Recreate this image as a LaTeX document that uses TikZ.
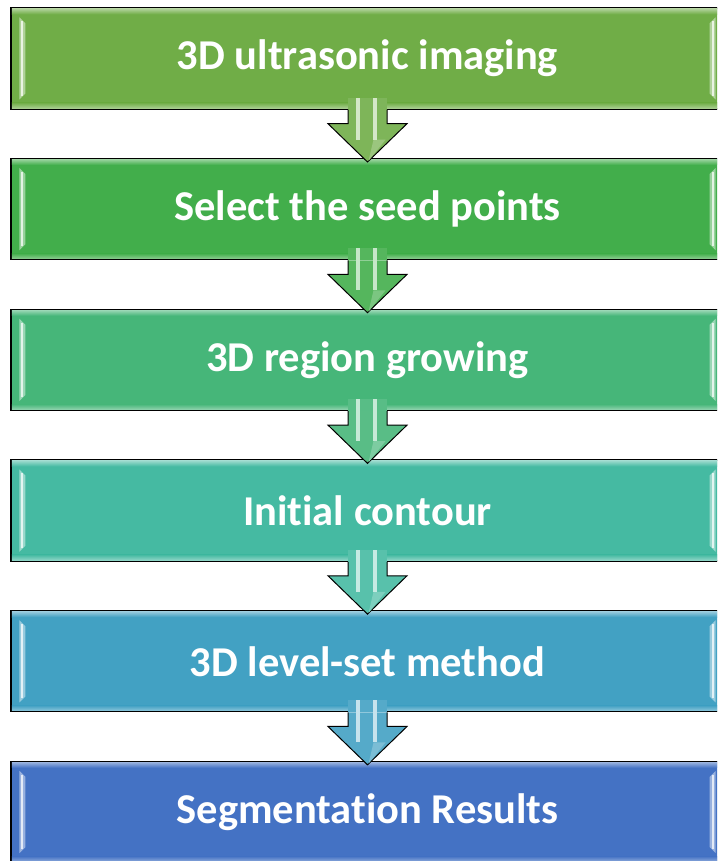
\documentclass[tikz,border=0pt]{standalone}
\usepackage{fontspec}
\setmainfont{Carlito}[Ligatures=NoCommon]
\definecolor{stageA}{HTML}{70AD47}
\definecolor{stageB}{HTML}{42AE4B}
\definecolor{stageC}{HTML}{46B679}
\definecolor{stageD}{HTML}{45BAA2}
\definecolor{stageE}{HTML}{42A1C3}
\definecolor{stageF}{HTML}{4472C4}
\usepackage{tikz}
\usetikzlibrary{positioning, calc}

\tikzset{
  stage/.style={draw=black, line width=1.4pt, minimum width=713pt,
                minimum height=101pt, inner sep=0pt, text=white,
                font=\fontsize{42.5}{50}\selectfont\bfseries},
  flowarrow/.style={draw=black, line width=1pt, line join=miter}
}

\begin{document}
\begin{tikzpicture}[x=1pt, y=1pt]
        \useasboundingbox (0,0) rectangle (717,861);
        \clip (0,0) rectangle (717,861);
        % ---- stage boxes (pitch about 150.7) ----
        \node[stage, fill=stageA] (imaging) at (367.5,802.5)
              {3D ultrasonic imaging};
        \node[stage, fill=stageB, below=48.3pt of imaging] (seeds)
              {Select the seed points};
        \node[stage, fill=stageC, below=48.3pt of seeds] (growing)
              {3D region growing};
        \node[stage, fill=stageD, below=48.3pt of growing] (contour)
              {Initial contour};
        \node[stage, fill=stageE, below=48.3pt of contour] (levelset)
              {3D level-set method};
        \node[stage, fill=stageF, below=48.3pt of levelset] (results)
              {Segmentation Results};

        % ---- bevel highlights on every box ----
        \foreach \n/\c in {imaging/stageA, seeds/stageB, growing/stageC,
                           contour/stageD, levelset/stageE, results/stageF} {
          % top and bottom glow
          \shade[top color=\c!55!white, bottom color=\c]
                ($(\n.north west)+(1.5,-1.5)$) rectangle ($(\n.north east)+(-1.5,-7)$);
          \shade[top color=\c, bottom color=\c!60!white]
                ($(\n.south west)+(1.5,7)$) rectangle ($(\n.south east)+(-1.5,1.5)$);
          % left edge
          \fill[\c!55!white] ($(\n.north west)+(9,-10)$) -- ($(\n.north west)+(15,-16)$)
                -- ($(\n.south west)+(15,16)$) -- ($(\n.south west)+(9,10)$) -- cycle;
          \fill[\c!15!white] ($(\n.north west)+(11,-14)$) rectangle ($(\n.south west)+(13,14)$);
          % right edge
          \fill[\c!55!white] ($(\n.north east)+(-9,-10)$) -- ($(\n.north east)+(-15,-16)$)
                -- ($(\n.south east)+(-15,16)$) -- ($(\n.south east)+(-9,10)$) -- cycle;
          \fill[\c!15!white] ($(\n.north east)+(-11,-14)$) rectangle ($(\n.south east)+(-13,14)$);
        }

        % ---- block arrows between the boxes ----
        \foreach \n/\m/\c in {imaging/seeds/stageA, seeds/growing/stageB,
                              growing/contour/stageC, contour/levelset/stageD,
                              levelset/results/stageE} {
          % shaft part inside the upper box
          \fill[\c!90!white] ($(\n.south)+(-19.5,12)$) rectangle ($(\n.south)+(19.5,0)$);
          \filldraw[flowarrow, fill=\c!90!white]
                ($(\n.south)+(-19.5,0)$) -- ($(\n.south)+(-19.5,-14)$)
                -- ($(\n.south)+(-39.5,-14)$) -- ($(\m.north)+(0,-4)$)
                -- ($(\n.south)+(39.5,-14)$) -- ($(\n.south)+(19.5,-14)$)
                -- ($(\n.south)+(19.5,0)$);
          % head facet
          \fill[\c!70!white] ($(\n.south)+(6,-30)$) -- ($(\n.south)+(18,-30)$)
                -- ($(\m.north)+(1,-3)$) -- cycle;
          % shaft stripes
          \fill[\c!30!white] ($(\n.south)+(-11.5,12)$) rectangle ($(\n.south)+(-7.5,-30)$);
          \fill[\c!30!white] ($(\n.south)+(5.5,12)$) rectangle ($(\n.south)+(9.5,-30)$);
        }
      \end{tikzpicture}
\end{document}
